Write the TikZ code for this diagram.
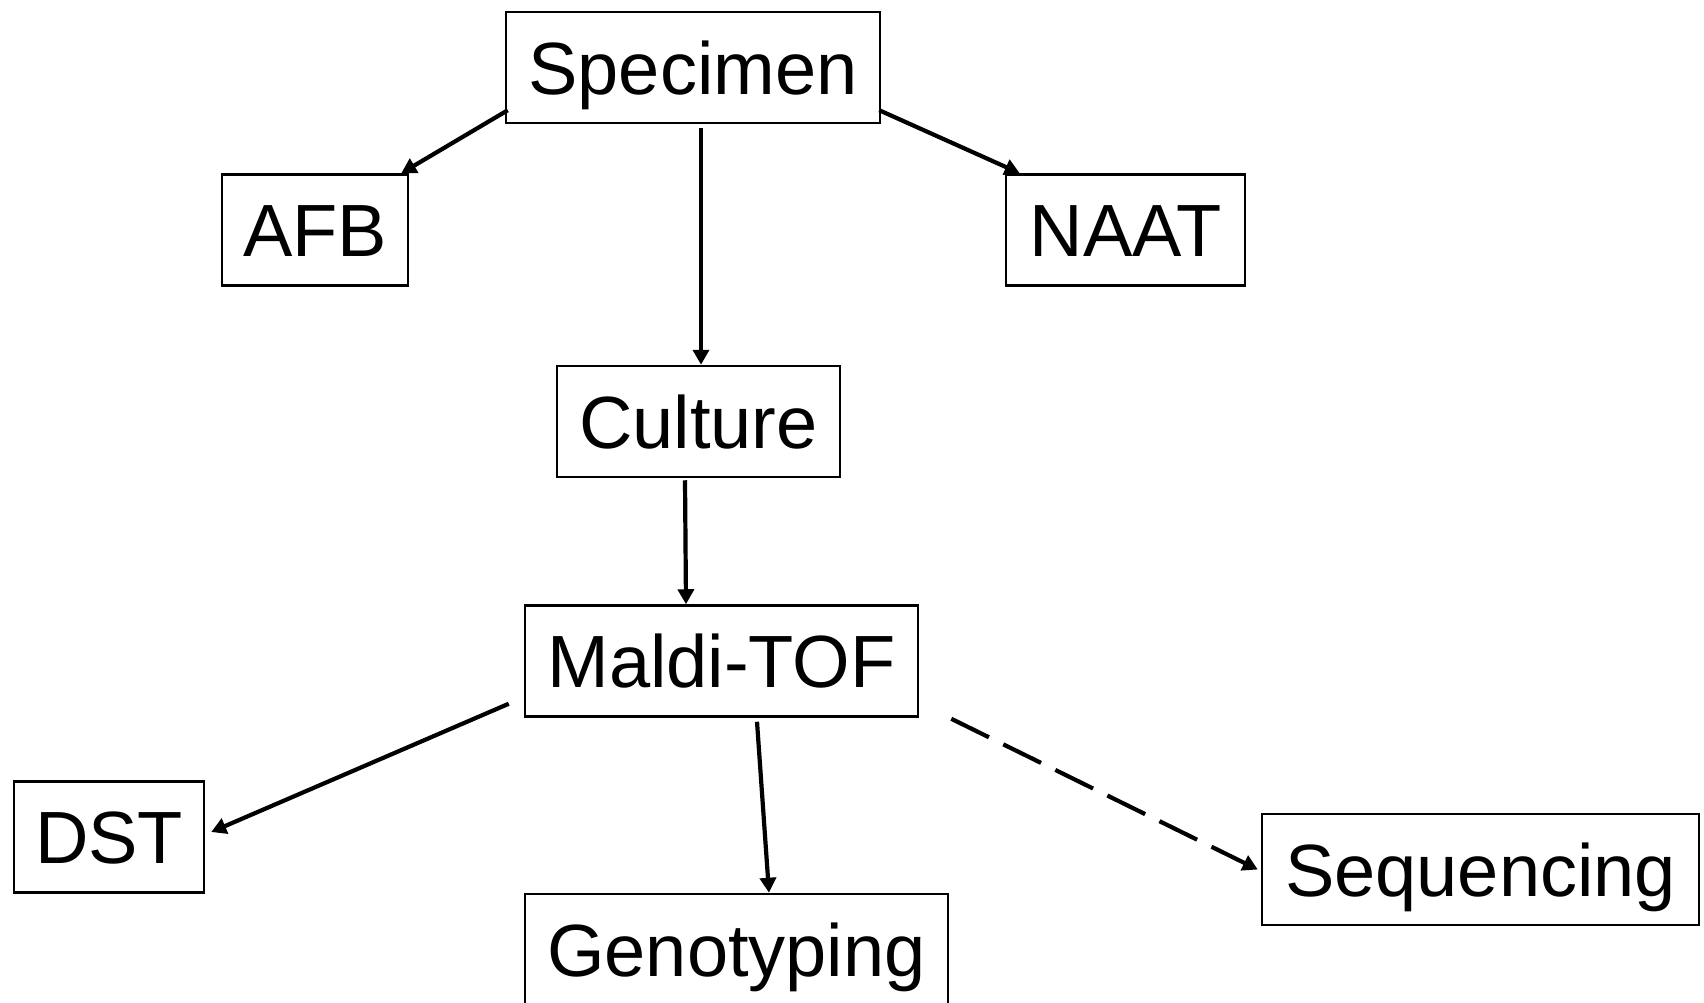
\documentclass[tikz,border=0pt]{standalone}
\usepackage{fontspec}
\setmainfont{Liberation Sans}
\usetikzlibrary{arrows.meta}
\tikzset{
  box/.style={draw=black, line width=2.5pt, inner sep=0pt, minimum height=111pt,
    text height=53.7pt, text depth=0pt, font=\fontsize{74pt}{90pt}\selectfont},
  conn/.style={line width=4.2pt, -{Triangle[length=15pt,width=16pt]}},
  dconn/.style={conn, dash pattern=on 42pt off 16pt}
}
\begin{document}
\begin{tikzpicture}[x=1pt,y=-1pt]
\useasboundingbox (0,0) rectangle (1704,1003);
\node[box, minimum width=374pt] (spec) at (693,67.5) {Specimen};
\node[box, minimum width=186pt] (afb) at (315,230) {AFB};
\node[box, minimum width=239pt] (naat) at (1125.5,230) {NAAT};
\node[box, minimum width=283pt] (cult) at (698.5,421.5) {Culture};
\node[box, minimum width=393pt] (maldi) at (721.5,661) {Maldi-TOF};
\node[box, minimum width=190pt] (dst) at (109,837) {DST};
\node[box, minimum width=423pt] (geno) at (736.5,949.5) {Genotyping};
\node[box, minimum width=437pt] (seq) at (1480.5,869.5) {Sequencing};
\draw[conn] ([xshift=3pt,yshift=14pt]spec.south west) -- ([xshift=-8pt]afb.north east);
\draw[conn] ([xshift=8pt,yshift=-4pt]spec.south) -- ([xshift=2.5pt]cult.north);
\draw[conn] ([xshift=-2pt,yshift=14pt]spec.south east) -- ([xshift=15pt]naat.north west);
\draw[conn] ([xshift=-13.5pt,yshift=-2pt]cult.south) -- ([xshift=-35.5pt]maldi.north);
\draw[conn] ([xshift=-15pt,yshift=14pt]maldi.south west) -- ([xshift=6pt,yshift=5pt]dst.east);
\draw[conn] ([xshift=35.5pt,yshift=-4pt]maldi.south) -- ([xshift=32.5pt]geno.north);
\draw[dconn] ([xshift=32pt,yshift=-1pt]maldi.south east) -- ([xshift=-3pt]seq.west);
\end{tikzpicture}
\end{document}
